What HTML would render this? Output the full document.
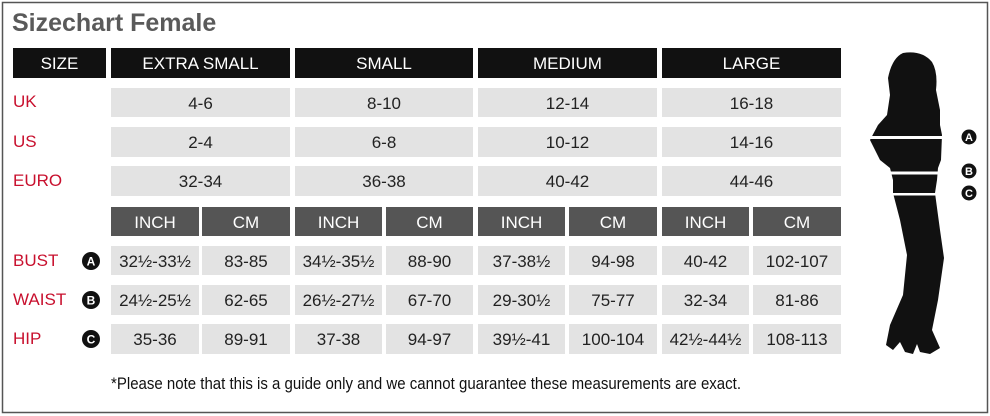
<!DOCTYPE html>
<html><head><meta charset="utf-8"><style>
html,body{margin:0;padding:0;background:#fff;width:990px;height:416px;overflow:hidden}
svg{display:block}
text{font-family:"Liberation Sans",Arial,sans-serif}
</style></head><body>
<svg width="990" height="416" viewBox="0 0 990 416" xmlns="http://www.w3.org/2000/svg">
<rect x="2.5" y="2.5" width="985" height="410" fill="#fff" stroke="#555" stroke-width="1.5"/>
<text x="12" y="31" font-size="25" font-weight="bold" fill="#5a5a5a">Sizechart Female</text>
<g fill="#111">
<rect x="13" y="48" width="93" height="30"/>
<rect x="111" y="48" width="179" height="30"/>
<rect x="295" y="48" width="178" height="30"/>
<rect x="478" y="48" width="179" height="30"/>
<rect x="662" y="48" width="179" height="30"/>
</g>
<g fill="#fff" font-size="17" text-anchor="middle">
<text x="59.5" y="69">SIZE</text>
<text x="200.5" y="69">EXTRA SMALL</text>
<text x="384" y="69">SMALL</text>
<text x="567.5" y="69">MEDIUM</text>
<text x="751.5" y="69">LARGE</text>
</g>
<g fill="#e3e3e3">
<rect x="111" y="88" width="179" height="29"/><rect x="295" y="88" width="178" height="29"/><rect x="478" y="88" width="179" height="29"/><rect x="662" y="88" width="179" height="29"/>
<rect x="111" y="127" width="179" height="30"/><rect x="295" y="127" width="178" height="30"/><rect x="478" y="127" width="179" height="30"/><rect x="662" y="127" width="179" height="30"/>
<rect x="111" y="166" width="179" height="30"/><rect x="295" y="166" width="178" height="30"/><rect x="478" y="166" width="179" height="30"/><rect x="662" y="166" width="179" height="30"/>
</g>
<g fill="#c8102e" font-size="17">
<text x="13" y="107">UK</text>
<text x="13" y="147">US</text>
<text x="13" y="186">EURO</text>
<text x="13" y="266">BUST</text>
<text x="13" y="305">WAIST</text>
<text x="13" y="344">HIP</text>
</g>
<g fill="#222" font-size="17" text-anchor="middle">
<text x="200.5" y="109">4-6</text><text x="384" y="109">8-10</text><text x="567.5" y="109">12-14</text><text x="751.5" y="109">16-18</text>
<text x="200.5" y="148">2-4</text><text x="384" y="148">6-8</text><text x="567.5" y="148">10-12</text><text x="751.5" y="148">14-16</text>
<text x="200.5" y="187">32-34</text><text x="384" y="187">36-38</text><text x="567.5" y="187">40-42</text><text x="751.5" y="187">44-46</text>
</g>
<g fill="#555">
<rect x="111" y="207" width="88" height="29"/><rect x="202" y="207" width="88" height="29"/>
<rect x="295" y="207" width="87" height="29"/><rect x="386" y="207" width="87" height="29"/>
<rect x="478" y="207" width="87" height="29"/><rect x="569" y="207" width="88" height="29"/>
<rect x="662" y="207" width="87" height="29"/><rect x="753" y="207" width="88" height="29"/>
</g>
<g fill="#fff" font-size="17" text-anchor="middle">
<text x="155" y="228">INCH</text><text x="246" y="228">CM</text>
<text x="338.5" y="228">INCH</text><text x="429.5" y="228">CM</text>
<text x="521.5" y="228">INCH</text><text x="613" y="228">CM</text>
<text x="705.5" y="228">INCH</text><text x="797" y="228">CM</text>
</g>
<g fill="#e3e3e3">
<rect x="111" y="246" width="88" height="29"/><rect x="202" y="246" width="88" height="29"/><rect x="295" y="246" width="87" height="29"/><rect x="386" y="246" width="87" height="29"/><rect x="478" y="246" width="87" height="29"/><rect x="569" y="246" width="88" height="29"/><rect x="662" y="246" width="87" height="29"/><rect x="753" y="246" width="88" height="29"/>
<rect x="111" y="285" width="88" height="30"/><rect x="202" y="285" width="88" height="30"/><rect x="295" y="285" width="87" height="30"/><rect x="386" y="285" width="87" height="30"/><rect x="478" y="285" width="87" height="30"/><rect x="569" y="285" width="88" height="30"/><rect x="662" y="285" width="87" height="30"/><rect x="753" y="285" width="88" height="30"/>
<rect x="111" y="324" width="88" height="30"/><rect x="202" y="324" width="88" height="30"/><rect x="295" y="324" width="87" height="30"/><rect x="386" y="324" width="87" height="30"/><rect x="478" y="324" width="87" height="30"/><rect x="569" y="324" width="88" height="30"/><rect x="662" y="324" width="87" height="30"/><rect x="753" y="324" width="88" height="30"/>
</g>
<g fill="#222" font-size="17" text-anchor="middle">
<text x="155" y="267">32½-33½</text><text x="246" y="267">83-85</text><text x="338.5" y="267">34½-35½</text><text x="429.5" y="267">88-90</text><text x="521.5" y="267">37-38½</text><text x="613" y="267">94-98</text><text x="705.5" y="267">40-42</text><text x="797" y="267">102-107</text>
<text x="155" y="306">24½-25½</text><text x="246" y="306">62-65</text><text x="338.5" y="306">26½-27½</text><text x="429.5" y="306">67-70</text><text x="521.5" y="306">29-30½</text><text x="613" y="306">75-77</text><text x="705.5" y="306">32-34</text><text x="797" y="306">81-86</text>
<text x="155" y="345">35-36</text><text x="246" y="345">89-91</text><text x="338.5" y="345">37-38</text><text x="429.5" y="345">94-97</text><text x="521.5" y="345">39½-41</text><text x="613" y="345">100-104</text><text x="705.5" y="345">42½-44½</text><text x="797" y="345">108-113</text>
</g>
<g font-weight="bold" text-anchor="middle">
<circle cx="91" cy="261" r="9" fill="#111"/><text x="91" y="265.5" fill="#fff" font-size="12">A</text>
<circle cx="91" cy="300" r="9" fill="#111"/><text x="91" y="304.5" fill="#fff" font-size="12">B</text>
<circle cx="91" cy="339" r="9" fill="#111"/><text x="91" y="343.5" fill="#fff" font-size="12">C</text>
<circle cx="969" cy="137" r="7.5" fill="#111"/><text x="969" y="141" fill="#fff" font-size="11">A</text>
<circle cx="969" cy="171" r="7.5" fill="#111"/><text x="969" y="175" fill="#fff" font-size="11">B</text>
<circle cx="969" cy="193" r="7.5" fill="#111"/><text x="969" y="197" fill="#fff" font-size="11">C</text>
</g>
<path fill="#111" d="M903,53 Q922,50 932,62 Q938,72 936,90 L940,110 L940,125 L942,135 L941,160 L938,168 L937,180 L935,193 L940,230 L944,258 L938,300 L932,330 L940,348 L930,354 L920,352 L917,344 L913,354 L905,352 L900,342 L893,350 L886,345 L890,325 L903,295 L907,255 L900,220 L893,193 L893,180 L890,168 L880,160 L870,140 L878,125 L887,115 L890,95 L888,78 Q892,58 903,53 Z"/>
<g fill="#fff">
<rect x="866" y="136" width="80" height="3"/>
<rect x="888" y="171.5" width="56" height="3"/>
<rect x="888" y="193" width="50" height="2.5"/>
</g>
<text x="111" y="389" font-size="17" fill="#111" textLength="630" lengthAdjust="spacingAndGlyphs">*Please note that this is a guide only and we cannot guarantee these measurements are exact.</text>
</svg>
</body></html>
